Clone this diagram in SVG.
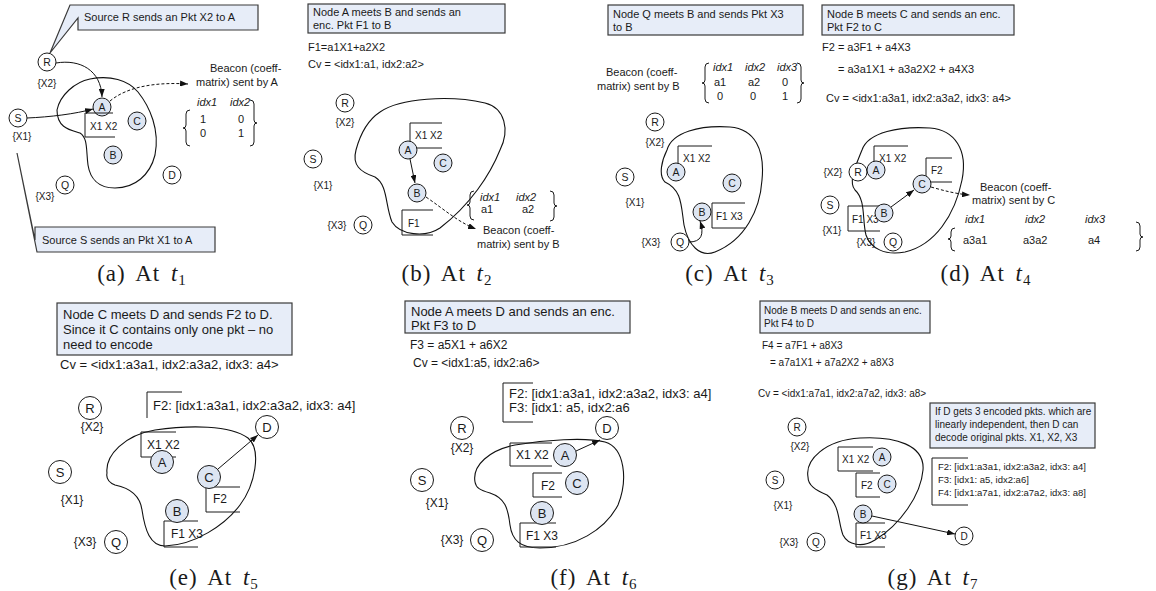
<svg xmlns="http://www.w3.org/2000/svg" width="1156" height="591" viewBox="0 0 1156 591" xml:space="preserve">
<defs>
<marker id="ah" markerWidth="8" markerHeight="6" refX="8" refY="3" orient="auto" markerUnits="userSpaceOnUse"><path d="M0,0 L8,3 L0,6 Z" fill="#111"/></marker>
<style>
text { font-family: "Liberation Sans", Arial, sans-serif; fill: #1a1a1a; }
.t11 { font-size: 11px; }
.t13 { font-size: 13px; }
.t12 { font-size: 12px; }
.t10 { font-size: 10px; }
.t9 { font-size: 9.5px; }
.it { font-style: italic; }
.lb { font-size: 10.5px; text-anchor: middle; }
.lbL { font-size: 13px; text-anchor: middle; }
.lbS { font-size: 10px; text-anchor: middle; }
.pk { font-size: 10px; text-anchor: middle; }
.pkL { font-size: 12px; text-anchor: middle; }
.nd { fill: #fff; stroke: #1a1a1a; stroke-width: 1; }
.nb { fill: #dde5f2; stroke: #1a1a1a; stroke-width: 1; }
.box { fill: #e7edf8; stroke: #3a3a3a; stroke-width: 1.2; }
.ln { fill: none; stroke: #1a1a1a; stroke-width: 1; }
.blob { fill: none; stroke: #111; stroke-width: 1.1; }
.arr { fill: none; stroke: #111; stroke-width: 1; marker-end: url(#ah); }
.dash { fill: none; stroke: #111; stroke-width: 1; stroke-dasharray: 3 2; marker-end: url(#ah); }
.cap { font-family: "Liberation Serif", "Times New Roman", serif; font-size: 23px; text-anchor: middle; letter-spacing: 1px; word-spacing: 4px; }
</style>
</defs>
<rect width="1156" height="591" fill="#fff"/>

<!-- ============ (a) t1 ============ -->
<g id="panel-a">
  <g id="a-region"><path class="blob" d="M57,110 C60,95 75,82 90,79 C110,75 128,80 138,92 C150,107 160,130 155,155 C150,175 135,188 115,188 C98,188 90,178 88,165 C86,150 88,138 80,133 C70,130 57,128 57,110 Z"/></g>
  <g id="a-note-R"><path class="box" d="M70,5 H258 V30 H78 V18 L50,53 Z"/><text class="t11" x="84" y="21">Source R sends an Pkt X2 to  A</text></g>
  <g id="a-note-S"><path class="box" d="M35,227 H215 V252 H37 L17,153 L35,240 Z"/><text class="t11" x="42" y="244">Source S sends an Pkt X1 to  A</text></g>
  <g id="a-R"><circle class="nd" cx="47" cy="62" r="9"/><text class="lb" x="47" y="66">R</text><text class="pk" x="47" y="87">{X2}</text></g>
  <g id="a-S"><circle class="nd" cx="18" cy="118" r="9"/><text class="lb" x="18" y="122">S</text><text class="pk" x="22" y="140">{X1}</text></g>
  <g id="a-Q"><circle class="nd" cx="65" cy="185" r="9"/><text class="lb" x="65" y="189">Q</text><text class="pk" x="45" y="200">{X3}</text></g>
  <g id="a-A"><circle class="nb" cx="102" cy="107" r="9"/><text class="lb" x="102" y="111">A</text></g>
  <g id="a-C"><circle class="nb" cx="137" cy="121" r="9"/><text class="lb" x="137" y="125">C</text></g>
  <g id="a-B"><circle class="nb" cx="113" cy="155" r="9"/><text class="lb" x="113" y="159">B</text></g>
  <g id="a-D"><circle class="nd" cx="172" cy="175" r="9"/><text class="lb" x="172" y="179">D</text></g>
  <g id="a-buffer"><path class="ln" d="M113,113 H85 V137 H115"/><text class="t10" x="90" y="130">X1 X2</text></g>
  <g id="a-links">
    <path class="arr" d="M56,63 C80,59 101,70 102,97"/>
    <path class="arr" d="M27,118 C50,117 75,114 93,109"/>
    <path class="dash" d="M110,101 C128,86 158,82 188,84"/>
  </g>
  <g id="a-beacon">
    <text class="t11" x="210" y="72">Beacon (coeff-</text>
    <text class="t11" x="196" y="86">matrix) sent by A</text>
    <path class="ln" d="M190,110 Q186,110 186,114 L186,125 Q186,128 183,128 Q186,128 186,131 L186,142 Q186,146 190,146"/>
    <text class="t11 it" x="197" y="106">idx1</text><text class="t11 it" x="230" y="106">idx2</text>
    <text class="t11" x="200" y="123">1</text><text class="t11" x="238" y="123">0</text>
    <text class="t11" x="200" y="137">0</text><text class="t11" x="238" y="137">1</text>
    <path class="ln" d="M250,100 Q254,100 254,104 L254,120 Q254,123 257,123 Q254,123 254,126 L254,142 Q254,146 250,146"/>
  </g>
  <text class="cap" x="142" y="281">(a) At <tspan font-style="italic">t</tspan><tspan font-size="15" dy="4">1</tspan></text>
</g>

<!-- ============ (b) t2 ============ -->
<g id="panel-b">
  <g id="b-note"><rect class="box" x="308" y="4" width="197" height="29"/><text class="t11" x="313" y="16">Node A meets B and  sends an</text><text class="t11" x="313" y="29">enc. Pkt F1 to  B</text></g>
  <text class="t11" x="308" y="51">F1=a1X1+a2X2</text>
  <text class="t11" x="308" y="68">Cv = &lt;idx1:a1, idx2:a2&gt;</text>
  <g id="b-region"><path class="blob" d="M380,112 C400,98 450,95 485,103 C505,108 510,130 500,150 C490,175 470,205 440,228 C425,238 400,235 392,222 C385,205 388,185 375,177 C360,172 352,165 356,150 C360,135 368,120 380,112 Z"/></g>
  <g id="b-buffers">
    <path class="ln" d="M442,123 H410 V148 H442"/><text class="t10" x="415" y="139">X1 X2</text>
    <path class="ln" d="M433,210 H402 V235 H433"/><text class="t10" x="408" y="227">F1</text>
  </g>
  <g id="b-R"><circle class="nd" cx="345" cy="103" r="9"/><text class="lb" x="345" y="107">R</text><text class="pk" x="345" y="126">{X2}</text></g>
  <g id="b-S"><circle class="nd" cx="313" cy="159" r="9"/><text class="lb" x="313" y="163">S</text><text class="pk" x="323" y="189">{X1}</text></g>
  <g id="b-Q"><circle class="nd" cx="363" cy="225" r="9"/><text class="lb" x="363" y="229">Q</text><text class="pk" x="337" y="229">{X3}</text></g>
  <g id="b-A"><circle class="nb" cx="408" cy="150" r="9"/><text class="lb" x="408" y="154">A</text></g>
  <g id="b-C"><circle class="nb" cx="443" cy="163" r="9"/><text class="lb" x="443" y="167">C</text></g>
  <g id="b-B"><circle class="nb" cx="417" cy="193" r="9"/><text class="lb" x="417" y="197">B</text></g>
  <g id="b-links">
    <path class="arr" d="M410,159 L415,183"/>
    <path class="dash" d="M426,197 C445,210 458,222 476,229"/>
  </g>
  <g id="b-beacon">
    <path class="ln" d="M474,191 Q470,191 470,195 L470,202 Q470,205 467,205 Q470,205 470,208 L470,216 Q470,220 474,220"/>
    <text class="t11 it" x="480" y="201">idx1</text><text class="t11 it" x="516" y="201">idx2</text>
    <text class="t11" x="481" y="213">a1</text><text class="t11" x="522" y="213">a2</text>
    <path class="ln" d="M550,191 Q554,191 554,195 L554,203 Q554,206 557,206 Q554,206 554,209 L554,217 Q554,221 550,221"/>
    <text class="t11" x="483" y="234">Beacon (coeff-</text>
    <text class="t11" x="477" y="248">matrix) sent by B</text>
  </g>
  <text class="cap" x="447" y="281">(b) At <tspan font-style="italic">t</tspan><tspan font-size="15" dy="4">2</tspan></text>
</g>

<!-- ============ (c) t3 ============ -->
<g id="panel-c">
  <g id="c-note"><rect class="box" x="608" y="5" width="195" height="30"/><text class="t11" x="613" y="18">Node Q meets B and sends Pkt X3</text><text class="t11" x="613" y="31">to  B</text></g>
  <g id="c-beacon">
    <text class="t11" x="606" y="76">Beacon (coeff-</text>
    <text class="t11" x="597" y="90">matrix) sent by B</text>
    <path class="ln" d="M709,63 Q705,63 705,67 L705,80 Q705,83 702,83 Q705,83 705,86 L705,99 Q705,103 709,103"/>
    <text class="t11 it" x="713" y="71">idx1</text><text class="t11 it" x="745" y="71">idx2</text><text class="t11 it" x="777" y="71">idx3</text>
    <text class="t11" x="714" y="86">a1</text><text class="t11" x="748" y="86">a2</text><text class="t11" x="782" y="86">0</text>
    <text class="t11" x="717" y="100">0</text><text class="t11" x="750" y="100">0</text><text class="t11" x="782" y="100">1</text>
    <path class="ln" d="M797,63 Q801,63 801,67 L801,80 Q801,83 804,83 Q801,83 801,86 L801,99 Q801,103 797,103"/>
  </g>
  <g id="c-region"><path class="blob" d="M667,150 C672,132 700,125 730,127 C755,129 765,150 762,180 C760,210 745,240 715,252 C700,258 688,245 684,225 C681,205 682,190 665,182 C658,175 662,160 667,150 Z"/></g>
  <g id="c-buffers">
    <path class="ln" d="M712,146 H678 V170"/><text class="t10" x="683" y="162">X1 X2</text>
    <path class="ln" d="M745,203 H712 V228 H745"/><text class="t10" x="716" y="220">F1 X3</text>
  </g>
  <g id="c-R"><circle class="nd" cx="655" cy="122" r="9"/><text class="lb" x="655" y="126">R</text><text class="pk" x="655" y="146">{X2}</text></g>
  <g id="c-S"><circle class="nd" cx="625" cy="177" r="9"/><text class="lb" x="625" y="181">S</text><text class="pk" x="635" y="206">{X1}</text></g>
  <g id="c-Q"><circle class="nd" cx="680" cy="242" r="9"/><text class="lb" x="680" y="246">Q</text><text class="pk" x="651" y="246">{X3}</text></g>
  <g id="c-A"><circle class="nb" cx="676" cy="172" r="9"/><text class="lb" x="676" y="176">A</text></g>
  <g id="c-C"><circle class="nb" cx="732" cy="183" r="9"/><text class="lb" x="732" y="187">C</text></g>
  <g id="c-B"><circle class="nb" cx="702" cy="212" r="9"/><text class="lb" x="702" y="216">B</text></g>
  <g id="c-links"><path class="arr" d="M689,242 Q707,242 700,221"/></g>
  <text class="cap" x="730" y="281">(c) At <tspan font-style="italic">t</tspan><tspan font-size="15" dy="4">3</tspan></text>
</g>

<!-- ============ (d) t4 ============ -->
<g id="panel-d">
  <g id="d-note"><rect class="box" x="822" y="5" width="192" height="30"/><text class="t11" x="827" y="18">Node B meets C and sends an enc.</text><text class="t11" x="827" y="31">Pkt F2 to  C</text></g>
  <text class="t11" x="822" y="51">F2 = a3F1 + a4X3</text>
  <text class="t11" x="838" y="73">= a3a1X1 + a3a2X2 + a4X3</text>
  <text class="t11" x="826" y="102">Cv = &lt;idx1:a3a1, idx2:a3a2, idx3: a4&gt;</text>
  <g id="d-region"><path class="blob" d="M862,150 C868,132 900,126 930,128 C955,130 968,150 962,180 C955,215 935,245 905,252 C885,256 870,248 866,235 C862,220 866,200 855,190 C848,182 856,165 862,150 Z"/></g>
  <g id="d-buffers">
    <path class="ln" d="M908,146 H874 V170"/><text class="t10" x="879" y="162">X1 X2</text>
    <path class="ln" d="M952,158 H926 V182 H952"/><text class="t10" x="931" y="174">F2</text>
    <path class="ln" d="M880,206 H848 V231 H880"/><text class="t10" x="852" y="223">F1 X3</text>
  </g>
  <g id="d-R"><circle class="nd" cx="858" cy="172" r="9"/><text class="lb" x="858" y="176">R</text><text class="pk" x="833" y="176">{X2}</text></g>
  <g id="d-S"><circle class="nd" cx="830" cy="205" r="9"/><text class="lb" x="830" y="209">S</text><text class="pk" x="832" y="234">{X1}</text></g>
  <g id="d-Q"><circle class="nd" cx="893" cy="242" r="9"/><text class="lb" x="893" y="246">Q</text><text class="pk" x="866" y="246">{X3}</text></g>
  <g id="d-A"><circle class="nb" cx="876" cy="170" r="9"/><text class="lb" x="876" y="174">A</text></g>
  <g id="d-C"><circle class="nb" cx="922" cy="184" r="9"/><text class="lb" x="922" y="188">C</text></g>
  <g id="d-B"><circle class="nb" cx="884" cy="213" r="9"/><text class="lb" x="884" y="217">B</text></g>
  <g id="d-links">
    <path class="arr" d="M891,207 L914,190"/>
    <path class="dash" d="M931,187 C945,191 957,194 970,195"/>
  </g>
  <g id="d-beacon">
    <text class="t11" x="980" y="191">Beacon (coeff-</text>
    <text class="t11" x="972" y="204">matrix) sent by C</text>
    <text class="t11 it" x="965" y="223">idx1</text><text class="t11 it" x="1025" y="223">idx2</text><text class="t11 it" x="1085" y="223">idx3</text>
    <path class="ln" d="M955,228 Q951,228 951,232 L951,236 Q951,239 948,239 Q951,239 951,242 L951,247 Q951,251 955,251"/>
    <text class="t11" x="963" y="244">a3a1</text><text class="t11" x="1023" y="244">a3a2</text><text class="t11" x="1088" y="244">a4</text>
    <path class="ln" d="M1136,222 Q1140,222 1140,226 L1140,234 Q1140,237 1143,237 Q1140,237 1140,240 L1140,247 Q1140,251 1136,251"/>
  </g>
  <text class="cap" x="986" y="281">(d) At <tspan font-style="italic">t</tspan><tspan font-size="15" dy="4">4</tspan></text>
</g>

<!-- ============ (e) t5 ============ -->
<g id="panel-e">
  <g id="e-note"><rect class="box" x="57" y="303" width="235" height="52"/><text class="t13" x="63" y="319">Node C meets D and sends F2 to  D.</text><text class="t13" x="63" y="334">Since it C contains only one pkt – no</text><text class="t13" x="63" y="349">need to encode</text></g>
  <text class="t13" x="60" y="369">Cv = &lt;idx1:a3a1, idx2:a3a2, idx3: a4&gt;</text>
  <g id="e-buffer-D"><path class="ln" d="M182,392 H147 V418"/><text class="t13" x="153" y="410">F2: [idx1:a3a1, idx2:a3a2, idx3: a4]</text></g>
  <g id="e-region"><path class="blob" d="M107,473 C105,455 125,435 155,430 C190,425 230,425 248,438 C262,450 255,485 240,505 C225,525 195,545 165,546 C150,546 145,530 142,510 C140,495 130,488 115,485 C108,482 106,478 107,473 Z"/></g>
  <g id="e-buffers">
    <path class="ln" d="M176,432 H141 V457 H176"/><text class="t12" x="147" y="449">X1 X2</text>
    <path class="ln" d="M240,487 H206 V512 H240"/><text class="t12" x="213" y="503">F2</text>
    <path class="ln" d="M198,521 H164 V547 H198"/><text class="t12" x="171" y="538">F1 X3</text>
  </g>
  <g id="e-R"><circle class="nd" cx="90" cy="408" r="11.5"/><text class="lbL" x="90" y="413">R</text><text class="pkL" x="92" y="431">{X2}</text></g>
  <g id="e-S"><circle class="nd" cx="60" cy="472" r="11.5"/><text class="lbL" x="60" y="477">S</text><text class="pkL" x="72" y="504">{X1}</text></g>
  <g id="e-Q"><circle class="nd" cx="116" cy="542" r="11.5"/><text class="lbL" x="116" y="547">Q</text><text class="pkL" x="85" y="546">{X3}</text></g>
  <g id="e-A"><circle class="nb" cx="162" cy="462" r="11.5"/><text class="lbL" x="162" y="467">A</text></g>
  <g id="e-C"><circle class="nb" cx="209" cy="477" r="11.5"/><text class="lbL" x="209" y="482">C</text></g>
  <g id="e-B"><circle class="nb" cx="177" cy="511" r="11.5"/><text class="lbL" x="177" y="516">B</text></g>
  <g id="e-D"><circle class="nd" cx="267" cy="427" r="11.5"/><text class="lbL" x="267" y="432">D</text></g>
  <g id="e-links"><path class="arr" d="M218,469 L258,435"/></g>
  <text class="cap" x="214" y="585">(e) At <tspan font-style="italic">t</tspan><tspan font-size="15" dy="4">5</tspan></text>
</g>

<!-- ============ (f) t6 ============ -->
<g id="panel-f">
  <g id="f-note"><rect class="box" x="405" y="301" width="225" height="32"/><text class="t13" x="411" y="316">Node A meets D and sends an enc.</text><text class="t13" x="411" y="330">Pkt F3 to  D</text></g>
  <text class="t12" x="410" y="349">F3 = a5X1 + a6X2</text>
  <text class="t12" x="413" y="367">Cv = &lt;idx1:a5, idx2:a6&gt;</text>
  <g id="f-buffer-D"><path class="ln" d="M533,383 H503 V422 H533"/><text class="t13" x="509" y="398">F2: [idx1:a3a1, idx2:a3a2, idx3: a4]</text><text class="t13" x="509" y="412">F3: [idx1: a5, idx2:a6</text></g>
  <g id="f-region"><path class="blob" d="M475,482 C472,465 490,450 515,445 C545,440 585,437 605,442 C625,448 628,480 618,505 C605,530 575,548 540,548 C520,548 512,540 510,525 C508,508 505,498 490,493 C480,490 476,488 475,482 Z"/></g>
  <g id="f-buffers">
    <path class="ln" d="M552,443 H510 V466 H552"/><text class="t12" x="516" y="459">X1 X2</text>
    <path class="ln" d="M562,473 H533 V497 H562"/><text class="t12" x="541" y="490">F2</text>
    <path class="ln" d="M556,523 H520 V547 H556"/><text class="t12" x="526" y="540">F1 X3</text>
  </g>
  <g id="f-R"><circle class="nd" cx="462" cy="428" r="11.5"/><text class="lbL" x="462" y="433">R</text><text class="pkL" x="462" y="452">{X2}</text></g>
  <g id="f-S"><circle class="nd" cx="422" cy="480" r="11.5"/><text class="lbL" x="422" y="485">S</text><text class="pkL" x="437" y="507">{X1}</text></g>
  <g id="f-Q"><circle class="nd" cx="482" cy="540" r="11.5"/><text class="lbL" x="482" y="545">Q</text><text class="pkL" x="452" y="544">{X3}</text></g>
  <g id="f-A"><circle class="nb" cx="565" cy="455" r="11.5"/><text class="lbL" x="565" y="460">A</text></g>
  <g id="f-C"><circle class="nb" cx="577" cy="483" r="11.5"/><text class="lbL" x="577" y="488">C</text></g>
  <g id="f-B"><circle class="nb" cx="542" cy="513" r="11.5"/><text class="lbL" x="542" y="518">B</text></g>
  <g id="f-D"><circle class="nd" cx="607" cy="428" r="11.5"/><text class="lbL" x="607" y="433">D</text></g>
  <g id="f-links"><path class="arr" d="M576,451 L600,440"/></g>
  <text class="cap" x="594" y="585">(f) At <tspan font-style="italic">t</tspan><tspan font-size="15" dy="4">6</tspan></text>
</g>

<!-- ============ (g) t7 ============ -->
<g id="panel-g">
  <g id="g-note"><rect class="box" x="760" y="301" width="170" height="32"/><text class="t10" x="764" y="314">Node B meets D and sends an enc.</text><text class="t10" x="764" y="327">Pkt F4 to  D</text></g>
  <text class="t10" x="762" y="349">F4 = a7F1 + a8X3</text>
  <text class="t10" x="770" y="366">= a7a1X1 + a7a2X2 + a8X3</text>
  <text class="t10" x="758" y="397">Cv = &lt;idx1:a7a1, idx2:a7a2, idx3: a8&gt;</text>
  <g id="g-note-D"><rect class="box" x="930" y="403" width="165" height="45"/><text class="t10" x="935" y="415">If D gets 3 encoded pkts. which are</text><text class="t10" x="935" y="428">linearly independent, then D can</text><text class="t10" x="935" y="441">decode original pkts. X1, X2, X3</text></g>
  <g id="g-buffer-D"><path class="ln" d="M968,458 H932 V505 H968"/><text class="t9" x="938" y="470">F2: [idx1:a3a1, idx2:a3a2, idx3: a4]</text><text class="t9" x="938" y="483">F3: [idx1: a5, idx2:a6]</text><text class="t9" x="938" y="496">F4: [idx1:a7a1, idx2:a7a2, idx3: a8]</text></g>
  <g id="g-region"><path class="blob" d="M808,477 C805,460 825,440 860,438 C895,436 925,445 923,470 C921,495 900,525 875,540 C862,548 848,545 843,535 C838,522 840,505 827,495 C815,490 808,485 808,477 Z"/></g>
  <g id="g-buffers">
    <path class="ln" d="M873,447 H838 V471 H873"/><text class="t10" x="842" y="463">X1 X2</text>
    <path class="ln" d="M880,473 H856 V497 H880"/><text class="t10" x="861" y="489">F2</text>
    <path class="ln" d="M885,523 H856 V547 H885"/><text class="t10" x="860" y="539">F1 X3</text>
  </g>
  <g id="g-R"><circle class="nd" cx="797" cy="427" r="9"/><text class="lbS" x="797" y="431">R</text><text class="pk" x="800" y="450">{X2}</text></g>
  <g id="g-S"><circle class="nd" cx="775" cy="480" r="9"/><text class="lbS" x="775" y="484">S</text><text class="pk" x="783" y="509">{X1}</text></g>
  <g id="g-Q"><circle class="nd" cx="816" cy="542" r="9"/><text class="lbS" x="816" y="546">Q</text><text class="pk" x="789" y="546">{X3}</text></g>
  <g id="g-A"><circle class="nb" cx="882" cy="457" r="9"/><text class="lbS" x="882" y="461">A</text></g>
  <g id="g-C"><circle class="nb" cx="887" cy="484" r="9"/><text class="lbS" x="887" y="488">C</text></g>
  <g id="g-B"><circle class="nb" cx="863" cy="514" r="9"/><text class="lbS" x="863" y="518">B</text></g>
  <g id="g-D"><circle class="nd" cx="964" cy="536" r="9"/><text class="lbS" x="964" y="540">D</text></g>
  <g id="g-links"><path class="arr" d="M872,516 L955,534"/></g>
  <text class="cap" x="933" y="585">(g) At <tspan font-style="italic">t</tspan><tspan font-size="15" dy="4">7</tspan></text>
</g>
</svg>
